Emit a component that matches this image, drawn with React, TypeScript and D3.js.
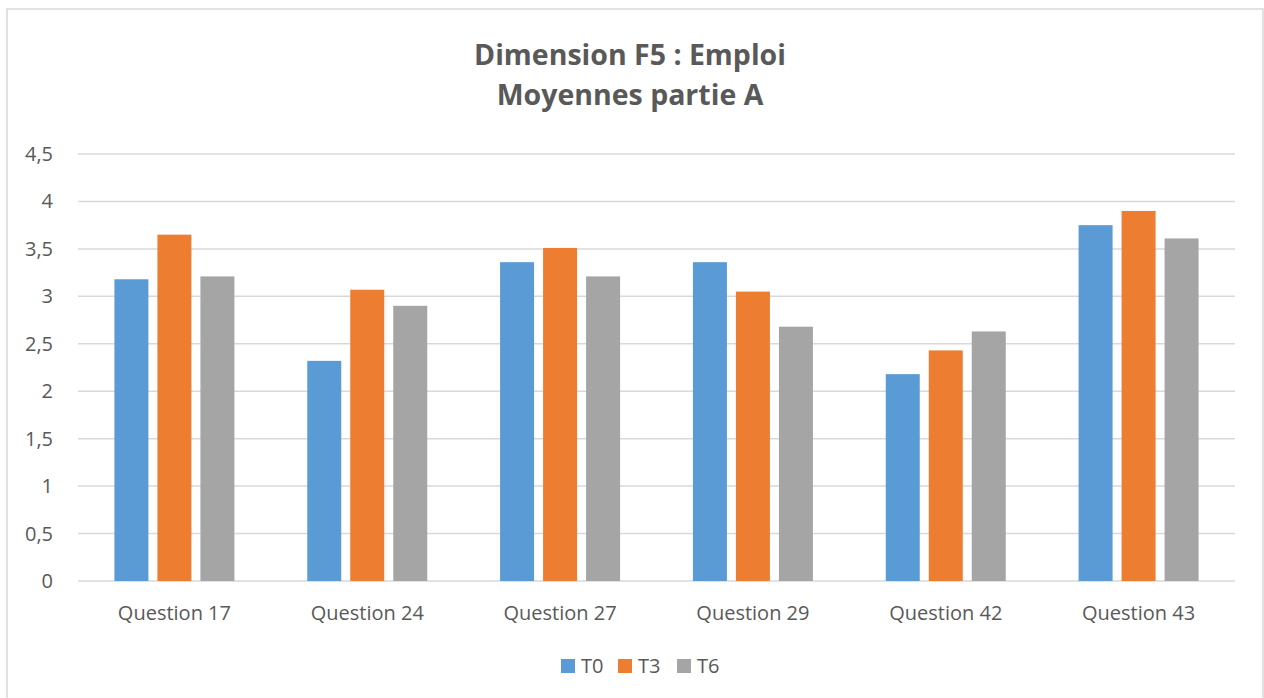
import React from "react";
import * as d3 from "d3";

const categories = ["Question 17", "Question 24", "Question 27", "Question 29", "Question 42", "Question 43"];
const seriesNames = ["T0", "T3", "T6"];
const t0 = [3.18, 2.32, 3.36, 3.36, 2.18, 3.75];
const t3 = [3.65, 3.07, 3.51, 3.05, 2.43, 3.9];
const t6 = [3.21, 2.9, 3.21, 2.68, 2.63, 3.61];
const yTicks = [0, 0.5, 1, 1.5, 2, 2.5, 3, 3.5, 4, 4.5];
const colors = ["#5B9BD5", "#ED7D31", "#A5A5A5"];
const titleLines = ["Dimension F5 : Emploi", "Moyennes partie A"];

const W = 1264;
const H = 698;
const left = 78;
const right = 1235;
const top = 154;
const bottom = 581;

export default function App() {
  const values = [t0, t3, t6];
  const x0 = d3.scaleBand<string>().domain(categories).range([left, right]).padding(0);
  const groupW = 120;
  const x1 = d3.scaleBand<string>().domain(seriesNames).range([0, groupW]).paddingInner(9 / 43).paddingOuter(0);
  const y = d3.scaleLinear().domain([0, 4.5]).range([bottom, top]);
  const fmt = (v: number) => String(v).replace(".", ",");
  const font = "'Open Sans', 'Noto Sans', sans-serif";
  const offset = (x0.bandwidth() - groupW) / 2;

  const legendX = [561, 618, 677];

  return (
    <div style={{ position: "fixed", left: 0, top: 0, width: W, height: H, background: "#fff" }}>
      <svg width={W} height={H} style={{ display: "block" }} fontFamily={font}>
        <rect x={0} y={0} width={W} height={H} fill="#fff" />
        <rect x={7} y={9} width={1256} height={700} fill="none" stroke="#d9d9d9" strokeWidth={1.5} />
        {titleLines.map((t, i) => (
          <text key={t} x={630} y={65 + i * 40} textAnchor="middle" fontSize={28.5} fontWeight="bold" fill="#595959">
            {t}
          </text>
        ))}
        {yTicks.map((v) => (
          <g key={v}>
            <line x1={left} x2={right} y1={y(v)} y2={y(v)} stroke="#d9d9d9" strokeWidth={1.5} />
            <text x={53} y={y(v) + 7} textAnchor="end" fontSize={20} fill="#595959">
              {fmt(v)}
            </text>
          </g>
        ))}
        {categories.map((c, ci) => (
          <g key={c}>
            {seriesNames.map((s, si) => {
              const v = values[si][ci];
              const bx = (x0(c) as number) + offset + (x1(s) as number);
              return (
                <rect key={s} x={bx} y={y(v)} width={x1.bandwidth()} height={y(0) - y(v)} fill={colors[si]} />
              );
            })}
            <text x={(x0(c) as number) + x0.bandwidth() / 2} y={620} textAnchor="middle" fontSize={20} fill="#595959">
              {c}
            </text>
          </g>
        ))}
        {seriesNames.map((s, si) => (
          <g key={s}>
            <rect x={legendX[si]} y={659} width={14} height={14} fill={colors[si]} />
            <text x={legendX[si] + 20} y={673} fontSize={20} fill="#595959">
              {s}
            </text>
          </g>
        ))}
      </svg>
    </div>
  );
}
